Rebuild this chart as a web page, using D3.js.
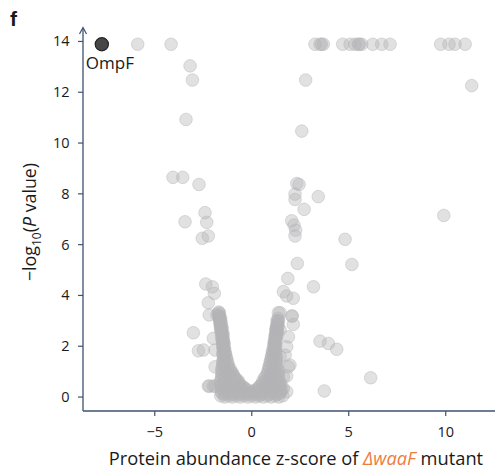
<!DOCTYPE html>
<html lang="en">
<head>
<meta charset="UTF-8">
<style>
  body { margin: 0; background: #fff; }
  text { font-family: "Open Sans", "Noto Sans", sans-serif; fill: #1a1a1a; }
</style>
</head>
<body>
<div id="chart"></div>
<script src="https://cdn.jsdelivr.net/npm/d3@7"></script>
<script>

// highlighted protein
var highlight = { name: "OmpF", x: -7.73, y: 13.89 };

// scattered proteins [z-score, -log10 P]
var scattered = [
  [-5.88, 13.89], [-4.16, 13.89], [3.26, 13.89], [3.52, 13.89], [3.69, 13.89], [3.6, 13.89],
  [4.69, 13.89], [5.07, 13.89], [5.32, 13.89], [5.5, 13.89], [5.55, 13.89], [5.67, 13.89],
  [6.24, 13.89], [6.70, 13.89], [7.13, 13.89], [9.74, 13.89], [10.17, 13.89], [10.48, 13.89], [11.0, 13.89],
  [-3.18, 13.04], [-3.06, 12.48], [-3.39, 10.93], [-4.06, 8.65], [-3.56, 8.65], [-2.72, 8.37],
  [2.78, 12.48], [11.34, 12.26], [2.58, 10.47], [2.32, 8.41], [2.44, 8.37], [3.43, 7.89],
  [-2.41, 7.26], [-3.44, 6.90], [-2.32, 6.88], [-2.24, 6.34], [-2.55, 6.25],
  [2.23, 7.99], [2.23, 7.78], [2.70, 7.39], [2.06, 6.94], [2.18, 6.77], [2.26, 6.57], [2.23, 6.34],
  [4.81, 6.21], [2.35, 5.26], [5.16, 5.22], [9.9, 7.15],
  [-2.37, 4.45], [-2.03, 4.34], [-1.93, 4.08], [-2.24, 3.71], [-2.19, 3.23], [-1.80, 3.23],
  [1.86, 4.67], [3.18, 4.34], [1.63, 4.15], [1.80, 3.98], [2.14, 3.89], [1.46, 3.32], [2.09, 3.19],
  [-3.01, 2.53], [-2.75, 1.82], [-2.49, 1.85], [-1.89, 1.85], [-1.98, 2.31], [-1.89, 1.19],
  [-2.19, 0.43], [-1.98, 0.43], [-2.24, 0.43], [-1.89, 0.43],
  [3.52, 2.20], [3.95, 2.11], [4.38, 1.88], [6.13, 0.76], [3.74, 0.24],
  [1.37, 3.32], [2.06, 3.19], [2.14, 2.86], [1.29, 2.64], [1.29, 2.57], [1.46, 2.64], [1.89, 2.37],
  [1.80, 1.98], [1.46, 1.59], [1.72, 1.65], [1.97, 1.26], [1.89, 1.19], [1.80, 0.83], [1.63, 0.80],
  [1.63, 0.34], [1.80, 0.21]
];

// dense centre of the volcano, left arm [z-score, -log10 P]
var coreLeft = [
  [-1.70, 3.35], [-1.68, 3.2], [-1.66, 3.05], [-1.62, 3.05], [-1.64, 2.9], [-1.62, 2.75], [-1.56, 2.75],
  [-1.60, 2.6], [-1.55, 2.45], [-1.50, 2.45], [-1.55, 2.3], [-1.50, 2.15], [-1.45, 2.15], [-1.50, 2.0],
  [-1.45, 1.85], [-1.40, 1.85], [-1.50, 1.7], [-1.35, 1.7], [-1.45, 1.55], [-1.30, 1.55],
  [-1.50, 1.4], [-1.25, 1.4], [-1.50, 1.25], [-1.20, 1.25], [-1.55, 1.1], [-1.10, 1.1],
  [-1.55, 0.95], [-1.30, 0.95], [-1.00, 0.95], [-1.55, 0.8], [-1.25, 0.8], [-0.92, 0.8],
  [-1.60, 0.65], [-1.30, 0.65], [-0.85, 0.65], [-0.70, 0.65],
  [-1.60, 0.5], [-1.25, 0.5], [-0.90, 0.5], [-0.60, 0.5],
  [-1.55, 0.35], [-1.20, 0.35], [-0.85, 0.35], [-0.55, 0.35], [-0.35, 0.35],
  [-1.72, 3.3], [-1.66, 3.3], [-1.70, 3.2], [-1.66, 3.1], [-1.60, 3.1], [-1.64, 3.0],
  [-1.62, 2.9], [-1.56, 2.9], [-1.60, 2.8], [-1.58, 2.7], [-1.52, 2.7], [-1.56, 2.6],
  [-1.54, 2.5], [-1.48, 2.5], [-1.52, 2.4], [-1.50, 2.3], [-1.46, 2.3], [-1.50, 2.2],
  [-1.48, 2.1], [-1.42, 2.1], [-1.46, 2.0], [-1.48, 1.9], [-1.40, 1.9], [-1.45, 1.8],
  [-1.46, 1.7], [-1.36, 1.7], [-1.42, 1.6], [-1.46, 1.5], [-1.32, 1.5], [-1.40, 1.4],
  [-1.48, 1.3], [-1.26, 1.3], [-1.38, 1.2], [-1.50, 1.1], [-1.18, 1.1], [-1.32, 1.0], [-1.08, 1.0],
  [-1.52, 0.9], [-1.20, 0.9], [-0.98, 0.9], [-1.40, 0.8], [-0.90, 0.8],
  [-1.55, 0.7], [-1.15, 0.7], [-0.82, 0.7], [-1.35, 0.6], [-0.95, 0.6], [-0.72, 0.6],
  [-1.55, 0.5], [-1.15, 0.5], [-0.80, 0.5], [-0.62, 0.5],
  [-1.35, 0.4], [-1.00, 0.4], [-0.65, 0.4], [-0.45, 0.4],
  [-1.55, 0.3], [-1.20, 0.3], [-0.85, 0.3], [-0.50, 0.3], [-0.30, 0.3]
];

// dense centre of the volcano, right arm
var coreRight = [
  [1.35, 3.0], [1.33, 2.85], [1.30, 2.7], [1.25, 2.7], [1.28, 2.55], [1.25, 2.4], [1.20, 2.4],
  [1.22, 2.25], [1.20, 2.1], [1.15, 2.1], [1.20, 1.95], [1.10, 1.8], [1.20, 1.8],
  [1.05, 1.65], [1.20, 1.65], [1.00, 1.5], [1.25, 1.5], [0.95, 1.35], [1.25, 1.35],
  [0.90, 1.2], [1.25, 1.2], [0.85, 1.05], [1.15, 1.05], [1.35, 1.05],
  [0.80, 0.9], [1.10, 0.9], [1.35, 0.9], [0.65, 0.75], [0.95, 0.75], [1.30, 0.75],
  [0.55, 0.6], [0.85, 0.6], [1.20, 0.6], [1.45, 0.6], [0.45, 0.45], [0.75, 0.45], [1.10, 0.45], [1.45, 0.45],
  [0.25, 0.3], [0.50, 0.3], [0.80, 0.3], [1.10, 0.3], [1.45, 0.3],
  [1.36, 3.1], [1.30, 3.0], [1.38, 3.0], [1.32, 2.9], [1.28, 2.8], [1.36, 2.8], [1.28, 2.7],
  [1.24, 2.6], [1.32, 2.6], [1.24, 2.5], [1.22, 2.4], [1.30, 2.4], [1.20, 2.3],
  [1.16, 2.2], [1.26, 2.2], [1.18, 2.1], [1.12, 2.0], [1.24, 2.0], [1.14, 1.9],
  [1.06, 1.8], [1.24, 1.8], [1.12, 1.7], [1.02, 1.6], [1.26, 1.6], [1.12, 1.5],
  [0.96, 1.4], [1.26, 1.4], [1.08, 1.3], [0.90, 1.2], [1.30, 1.2], [1.05, 1.1],
  [0.84, 1.0], [1.20, 1.0], [1.40, 1.0], [0.98, 0.9], [0.72, 0.8], [1.05, 0.8], [1.38, 0.8],
  [0.85, 0.7], [1.20, 0.7], [0.65, 0.6], [1.00, 0.6], [1.35, 0.6],
  [0.55, 0.5], [0.90, 0.5], [1.25, 0.5], [1.50, 0.5], [0.38, 0.4], [0.70, 0.4], [1.05, 0.4], [1.40, 0.4],
  [0.30, 0.3], [0.62, 0.3], [0.95, 0.3], [1.30, 0.3], [1.55, 0.3]
];

// dense centre of the volcano, bottom band
var coreBase = [
  [-1.55, 0.2], [-1.20, 0.2], [-0.85, 0.2], [-0.55, 0.2], [-0.25, 0.2], [0.0, 0.2],
  [0.30, 0.2], [0.60, 0.2], [0.90, 0.2], [1.20, 0.2], [1.50, 0.2],
  [-1.4, 0.25], [-1.1, 0.25], [-0.8, 0.25], [-0.5, 0.25], [-0.2, 0.25], [0.1, 0.25],
  [0.4, 0.25], [0.7, 0.25], [1.0, 0.25], [1.3, 0.25],
  [-1.55, 0.15], [-1.25, 0.15], [-0.95, 0.15], [-0.65, 0.15], [-0.35, 0.15], [-0.05, 0.15],
  [0.25, 0.15], [0.55, 0.15], [0.85, 0.15], [1.15, 0.15], [1.45, 0.15],
  [-1.4, 0.1], [-1.0, 0.1], [-0.6, 0.1], [-0.2, 0.1], [0.2, 0.1], [0.50, 0.1], [0.90, 0.1], [1.30, 0.1],
  [-1.6, 0.05], [-1.2, 0.05], [-0.8, 0.05], [-0.4, 0.05], [0.0, 0.05], [0.4, 0.05], [0.8, 0.05], [1.2, 0.05], [1.6, 0.05],
  [-1.4, 0.0], [-1.0, 0.0], [-0.6, 0.0], [-0.2, 0.0], [0.2, 0.0], [0.6, 0.0], [1.0, 0.0], [1.4, 0.0]
];

var xTicks = [-5, 0, 5, 10];
var yTicks = [0, 2, 4, 6, 8, 10, 12, 14];

var width = 495, height = 471;
var axisColor = "#3e5270";

var svg = d3.select("#chart").append("svg")
    .attr("width", width)
    .attr("height", height);

var x = d3.scaleLinear().domain([-8.7, 12.54]).range([83, 495]);
var y = d3.scaleLinear().domain([-0.55, 14.53]).range([411, 28]);

// panel letter
svg.append("text")
    .attr("x", 10).attr("y", 26)
    .style("font-weight", "bold")
    .style("font-size", "21px")
    .style("font-family", "Liberation Sans, Arial, sans-serif")
    .text("f");

// points
var pts = svg.append("g");
pts.selectAll(".dot")
    .data(scattered.concat(coreLeft, coreRight, coreBase))
    .enter().append("circle")
    .attr("cx", function (d) { return x(d[0]); })
    .attr("cy", function (d) { return y(d[1]); })
    .attr("r", 6.3)
    .style("fill", "#b3b3b7")
    .style("fill-opacity", 0.4)
    .style("stroke", "#b3b3b7")
    .style("stroke-opacity", 0.45)
    .style("stroke-width", 1);

svg.append("circle")
    .attr("cx", x(highlight.x))
    .attr("cy", y(highlight.y))
    .attr("r", 6.6)
    .style("fill", "#464646")
    .style("stroke", "#222")
    .style("stroke-width", 1.2);

svg.append("text")
    .attr("x", x(highlight.x) - 16)
    .attr("y", y(highlight.y) + 25)
    .style("font-size", "17px")
    .text(highlight.name);

// y axis
var yAxis = svg.append("g");
yAxis.append("line")
    .attr("x1", 83).attr("x2", 83)
    .attr("y1", 411).attr("y2", 28)
    .style("stroke", axisColor).style("stroke-width", 1.3);
yAxis.append("path")
    .attr("d", "M79.5,34 L83,27.5 L86.5,34")
    .style("fill", "none").style("stroke", axisColor).style("stroke-width", 1.2);
yAxis.selectAll(".ytick")
    .data(yTicks).enter().append("line")
    .attr("x1", 78).attr("x2", 83)
    .attr("y1", function (d) { return y(d); })
    .attr("y2", function (d) { return y(d); })
    .style("stroke", axisColor).style("stroke-width", 1.2);
yAxis.selectAll(".ylab")
    .data(yTicks).enter().append("text")
    .attr("x", 69.5)
    .attr("y", function (d) { return y(d) + 5; })
    .style("text-anchor", "end")
    .style("font-size", "14.5px")
    .text(function (d) { return d; });

// x axis
var xAxis = svg.append("g");
xAxis.append("line")
    .attr("x1", 83).attr("x2", 495)
    .attr("y1", 411).attr("y2", 411)
    .style("stroke", axisColor).style("stroke-width", 1.3);
xAxis.selectAll(".xtick")
    .data(xTicks).enter().append("line")
    .attr("x1", function (d) { return x(d); })
    .attr("x2", function (d) { return x(d); })
    .attr("y1", 411).attr("y2", 416)
    .style("stroke", axisColor).style("stroke-width", 1.2);
xAxis.selectAll(".xlab")
    .data(xTicks).enter().append("text")
    .attr("x", function (d) { return x(d); })
    .attr("y", 437)
    .style("text-anchor", "middle")
    .style("font-size", "14.5px")
    .text(function (d) { return d < 0 ? "\u2212" + Math.abs(d) : d; });

// axis titles
var xt = svg.append("text")
    .attr("x", 296).attr("y", 465)
    .style("text-anchor", "middle")
    .style("font-size", "18.3px");
xt.append("tspan").text("Protein abundance z-score of ");
xt.append("tspan").style("fill", "#ef7b3e").style("font-style", "italic").text("\u0394waaF");
xt.append("tspan").text(" mutant");

var yt = svg.append("text")
    .attr("transform", "translate(36,222) rotate(-90)")
    .style("text-anchor", "middle")
    .style("font-size", "17.8px");
yt.append("tspan").text("\u2212log");
yt.append("tspan").attr("dy", 5).style("font-size", "12px").text("10");
yt.append("tspan").attr("dy", -5).text("(");
yt.append("tspan").style("font-style", "italic").text("P");
yt.append("tspan").text(" value)");

</script>
</body>
</html>
